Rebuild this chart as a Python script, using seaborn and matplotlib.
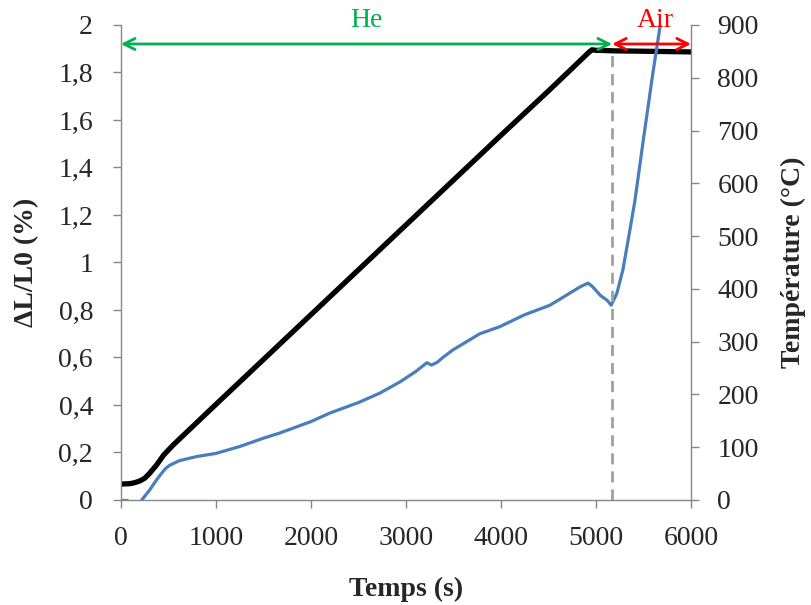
import numpy as np
import pandas as pd
import matplotlib
matplotlib.use("Agg")
import matplotlib.pyplot as plt
from matplotlib import ticker
import seaborn as sns

# Dilatation (left axis, %) - two recorded segments
dil_time_a = [0, 70]
dil_a = [0.0, 0.0]
dil_time_b = [220, 300, 375, 430, 470, 510, 550, 620, 800, 1000, 1250, 1500, 1674,
              2000, 2200, 2500, 2726, 2937, 3100, 3221, 3270, 3330, 3389, 3495,
              3779, 3990, 4250, 4516, 4832, 4916, 4960, 5050, 5120, 5160, 5220,
              5284, 5350, 5410, 5500, 5600, 5700]
dil_b = [0.0, 0.04, 0.084, 0.113, 0.132, 0.145, 0.153, 0.166, 0.183, 0.196, 0.225,
         0.26, 0.282, 0.33, 0.366, 0.41, 0.45, 0.497, 0.54, 0.578, 0.568, 0.58,
         0.60, 0.632, 0.70, 0.73, 0.78, 0.82, 0.897, 0.913, 0.90, 0.86, 0.84,
         0.82, 0.87, 0.97, 1.12, 1.26, 1.52, 1.80, 2.06]

# Temperature (right axis, degC)
temp_time = [0, 100, 150, 200, 250, 300, 375, 450, 550, 1000, 1500, 2000, 2500,
             3000, 3500, 4000, 4500, 4930, 4958, 5000, 5200, 5600, 6000]
temp_c = [30, 31, 33, 36, 41, 50, 66, 85, 104, 181, 266, 351, 436, 521, 606,
          691, 775, 849, 853, 852, 851, 850, 849]

switch_time = 5170      # He -> Air
plateau_level = 1.89    # top of dashed marker (left units)
arrow_level = 1.92
x_ticks = [0, 1000, 2000, 3000, 4000, 5000, 6000]
left_ticks = [0, 0.2, 0.4, 0.6, 0.8, 1.0, 1.2, 1.4, 1.6, 1.8, 2.0]
right_ticks = [0, 100, 200, 300, 400, 500, 600, 700, 800, 900]

blue = "#4A7EBB"
green = "#00B050"
red = "#FF0000"
grey = "#868686"

sns.set_theme(style="white")
plt.rcParams["font.family"] = ["Liberation Serif", "DejaVu Serif"]

dil = pd.DataFrame({
    "t": dil_time_a + dil_time_b,
    "dl": dil_a + dil_b,
    "seg": [0] * len(dil_time_a) + [1] * len(dil_time_b),
})
temp = pd.DataFrame({"t": temp_time, "T": temp_c})

fig, ax = plt.subplots(figsize=(8.11, 6.05), dpi=100)
fig.subplots_adjust(left=0.149, right=0.852, bottom=0.1736, top=0.9587)
ax2 = ax.twinx()

sns.lineplot(data=temp, x="t", y="T", ax=ax2, color="black", lw=3.8,
             estimator=None, sort=False)
sns.lineplot(data=dil, x="t", y="dl", units="seg", ax=ax, color=blue, lw=2.3,
             estimator=None, sort=False)

# keep the blue curve on top of the black one
ax.set_zorder(ax2.get_zorder() + 1)
ax.patch.set_visible(False)

ax.vlines(switch_time, 0, plateau_level, color="#A0A0A0", lw=2,
          linestyles=(0, (4, 2.5)))

ax.set_xlim(0, 6000)
ax.set_ylim(0, 2)
ax2.set_ylim(0, 900)
ax.set_xticks(x_ticks)
ax.set_yticks(left_ticks)
ax2.set_yticks(right_ticks)


def comma_fmt(v, pos):
    s = f"{v:.1f}".rstrip("0").rstrip(".")
    return s.replace(".", ",")


ax.yaxis.set_major_formatter(ticker.FuncFormatter(comma_fmt))

for a in (ax, ax2):
    a.spines["top"].set_visible(False)
    for side in ("left", "right", "bottom"):
        a.spines[side].set_color(grey)
        a.spines[side].set_linewidth(1.0)
ax.spines["right"].set_visible(False)
ax2.spines["left"].set_visible(False)
ax2.spines["bottom"].set_visible(False)

ax.tick_params(axis="y", direction="out", length=6, width=1, color=grey,
               labelsize=20, pad=14, left=True)
ax.tick_params(axis="x", direction="out", length=6, width=1, color=grey,
               labelsize=20, pad=13, bottom=True)
ax2.tick_params(axis="y", direction="out", length=6, width=1, color=grey,
                labelsize=20, pad=13, right=True)

ax.set_xlabel("Temps (s)", fontsize=20, fontweight="bold", labelpad=18)
ax.set_ylabel("ΔL/L0 (%)", fontsize=20, fontweight="bold", labelpad=14)
ax2.set_ylabel("Température (°C)", fontsize=20, fontweight="bold", labelpad=16)

# atmosphere arrows
ax.annotate("", xy=(0, arrow_level), xytext=(switch_time, arrow_level),
            arrowprops=dict(arrowstyle="<->", color=green, lw=2,
                            mutation_scale=20, shrinkA=0, shrinkB=0),
            annotation_clip=False)
ax.annotate("", xy=(switch_time, arrow_level), xytext=(6000, arrow_level),
            arrowprops=dict(arrowstyle="<->", color=red, lw=2,
                            mutation_scale=20, shrinkA=0, shrinkB=0),
            annotation_clip=False)
ax.text(switch_time / 2, 2.02, "He", color=green, fontsize=20,
        ha="center", va="center", clip_on=False)
ax.text((switch_time + 6000) / 2 + 40, 2.02, "Air", color=red, fontsize=20,
        ha="center", va="center", clip_on=False)

fig.savefig("out.png", dpi=100)
